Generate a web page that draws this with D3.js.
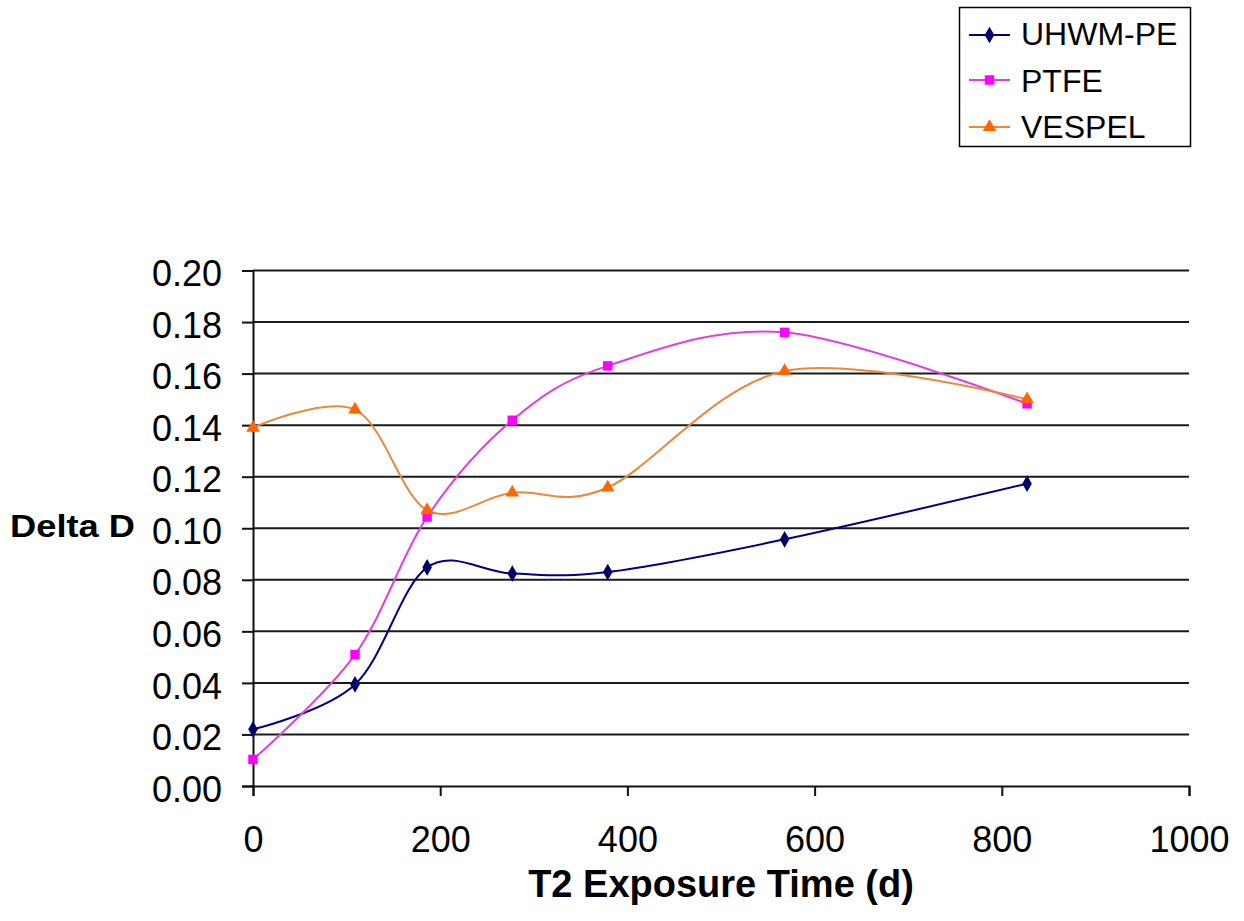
<!DOCTYPE html>
<html>
<head>
<meta charset="utf-8">
<script src="https://cdn.jsdelivr.net/npm/d3@7"></script>
<style>
  html, body { margin: 0; padding: 0; background: #fff; }
  svg { display: block; font-family: "Liberation Sans", Arial, Helvetica, sans-serif; }
</style>
</head>
<body>
<svg id="chart" width="1244" height="921"></svg>
<script>
// Exposure time (days) at which each sample was measured
const days = [0, 109, 186, 277, 379, 568, 827];

// Change in D for each material
const uhwmpe = [0.022, 0.0394, 0.0848, 0.0824, 0.0830, 0.0957, 0.1173];
const ptfe   = [0.0103, 0.0510, 0.1044, 0.1419, 0.1630, 0.1760, 0.1483];
const vespel = [0.139, 0.146, 0.107, 0.1138, 0.1158, 0.161, 0.150];

const seriesNames = ["UHWM-PE", "PTFE", "VESPEL"];
const xTicks = [0, 200, 400, 600, 800, 1000];
const yTicks = [0, 0.02, 0.04, 0.06, 0.08, 0.10, 0.12, 0.14, 0.16, 0.18, 0.20];

const series = [
  { name: seriesNames[0], values: uhwmpe, line: "#000080", fill: "#000066", shape: d3.symbolDiamond, size: 80 },
  { name: seriesNames[1], values: ptfe,   line: "#E040E0", fill: "#FF00FF", shape: d3.symbolSquare,  size: 90 },
  { name: seriesNames[2], values: vespel, line: "#E88A3C", fill: "#FF6600", shape: d3.symbolTriangle, size: 80 }
];

const svg = d3.select("#chart");
const plotLeft = 253, plotRight = 1189, plotTop = 270.5, plotBottom = 786;

const x = d3.scaleLinear().domain([0, 1000]).range([plotLeft, plotRight]);
const y = d3.scaleLinear().domain([0, 0.20]).range([plotBottom, plotTop]);

// horizontal gridlines
svg.append("g")
  .selectAll("line")
  .data(yTicks.filter(t => t > 0))
  .join("line")
  .attr("x1", plotLeft).attr("x2", plotRight)
  .attr("y1", d => y(d)).attr("y2", d => y(d))
  .attr("stroke", "#1a1a1a").attr("stroke-width", 2);

// y axis
const yAxis = svg.append("g")
  .attr("transform", `translate(${plotLeft},0)`)
  .call(d3.axisLeft(y).tickValues(yTicks).tickFormat(d3.format(".2f")).tickSize(11).tickPadding(20));
yAxis.select(".domain").attr("stroke", "#111").attr("stroke-width", 2);
yAxis.selectAll(".tick line").attr("stroke", "#111").attr("stroke-width", 2);
yAxis.selectAll(".tick text")
  .attr("font-size", 36).attr("font-family", "Liberation Sans, Arial, sans-serif")
  .attr("fill", "#000").attr("dy", "0.42em");

// x axis
const xAxis = svg.append("g")
  .attr("transform", `translate(0,${plotBottom})`)
  .call(d3.axisBottom(x).tickValues(xTicks).tickFormat(d3.format("d")).tickSize(10).tickPadding(30));
xAxis.select(".domain").attr("stroke", "#111").attr("stroke-width", 2);
xAxis.selectAll(".tick line").attr("stroke", "#111").attr("stroke-width", 2);
xAxis.selectAll(".tick text")
  .attr("font-size", 36).attr("font-family", "Liberation Sans, Arial, sans-serif")
  .attr("fill", "#000").attr("dy", "0.71em");

// axis titles
svg.append("text")
  .attr("x", 721).attr("y", 897)
  .attr("text-anchor", "middle")
  .attr("font-size", 38).attr("font-weight", "bold")
  .text("T2 Exposure Time (d)");

svg.append("text")
  .attr("x", 10).attr("y", 537)
  .attr("font-size", 31).attr("font-weight", "bold")
  .attr("textLength", 125).attr("lengthAdjust", "spacingAndGlyphs")
  .text("Delta D");

// smoothed series lines and markers
const line = d3.line()
  .x((d, i) => x(days[i]))
  .y(d => y(d))
  .curve(d3.curveCardinal.tension(0));

const sg = svg.append("g");
series.forEach(s => {
  sg.append("path")
    .datum(s.values)
    .attr("d", line)
    .attr("fill", "none")
    .attr("stroke", s.line)
    .attr("stroke-width", 2);
});
series.forEach(s => {
  sg.append("g")
    .selectAll("path")
    .data(s.values)
    .join("path")
    .attr("transform", (d, i) => `translate(${x(days[i])},${y(d)})`)
    .attr("d", d3.symbol().type(s.shape).size(s.size))
    .attr("fill", s.fill);
});

// legend
const lg = svg.append("g");
lg.append("rect")
  .attr("x", 959.5).attr("y", 7.5).attr("width", 231).attr("height", 139)
  .attr("fill", "#fff").attr("stroke", "#000").attr("stroke-width", 1.5);

const rowLine = [35, 80, 127];
const rowText = [45, 91.5, 138];
series.forEach((s, i) => {
  lg.append("line")
    .attr("x1", 969).attr("x2", 1010)
    .attr("y1", rowLine[i]).attr("y2", rowLine[i])
    .attr("stroke", s.line).attr("stroke-width", 2);
  lg.append("path")
    .attr("transform", `translate(989.5,${rowLine[i]})`)
    .attr("d", d3.symbol().type(s.shape).size(s.size))
    .attr("fill", s.fill);
  lg.append("text")
    .attr("x", 1021).attr("y", rowText[i])
    .attr("font-size", 32)
    .attr("fill", "#000")
    .text(s.name);
});
</script>
</body>
</html>
